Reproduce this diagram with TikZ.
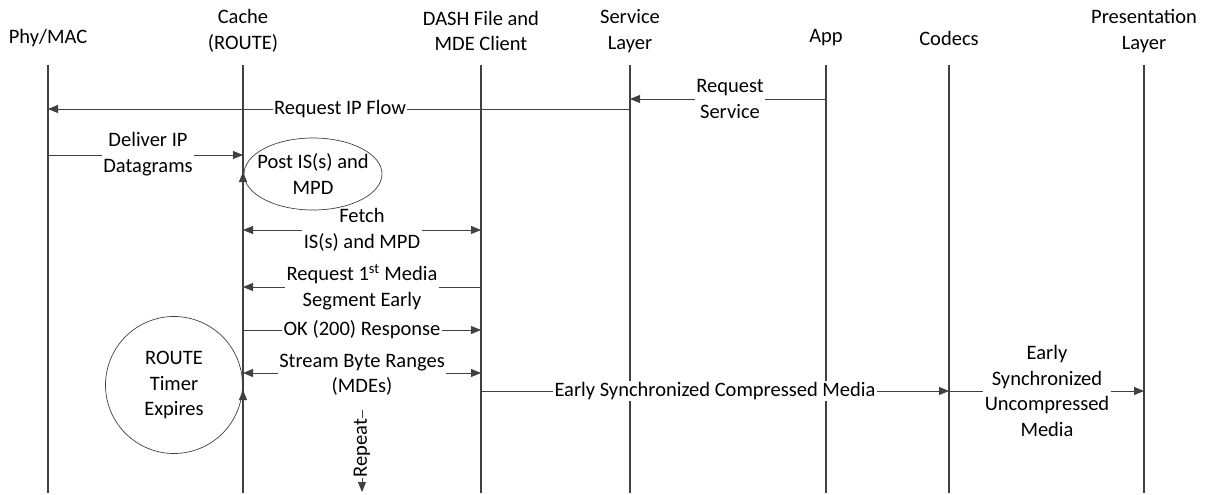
\documentclass[tikz,border=0pt]{standalone}
\usepackage{fontspec}
\setmainfont{Carlito}
\usetikzlibrary{arrows.meta,shapes.geometric}
\definecolor{ink}{HTML}{404040}
\newcommand{\txtsize}{\fontsize{20.5}{25.5}\selectfont}
\tikzset{
  lifeline/.style={draw=ink, line width=1.3pt},
  msg/.style={draw=ink, line width=0.9pt, -{Triangle[length=10pt,width=8pt]}},
  dmsg/.style={draw=ink, line width=0.9pt, {Triangle[length=10pt,width=8pt]}-{Triangle[length=10pt,width=8pt]}},
  head/.style={align=center, font=\txtsize, inner sep=1pt},
  lbl/.style={fill=white, align=center, font=\txtsize, inner sep=1.5pt},
  bubble/.style={draw=ink, line width=0.7pt, align=center, font=\txtsize, inner sep=0pt},
}
\begin{document}
\begin{tikzpicture}[x=1pt, y=-1pt]
\useasboundingbox (0,0) rectangle (1221,495);

% participants: name / x / y of heading / heading text
\foreach \n/\x/\y/\t in {phy/48/38/{Phy/MAC}, cache/243/31/{Cache\\(ROUTE)}, dash/481/31/{DASH File and\\MDE Client},
                      svc/630/31/{Service\\Layer}, app/826/38/{App}, codec/949/38/{Codecs}, pres/1144/31/{Presentation\\Layer}}{
  \node[head] (\n) at (\x,\y) {\t};
  \coordinate (\n-top) at (\x,65);
  \coordinate (\n-bot) at (\x,493);
  \draw[lifeline] (\n-top) -- (\n-bot);
}

% request service
\coordinate (a1) at (826,99);  \coordinate (s1) at (630,99);
\draw[msg] (a1) -- (s1);
\node[lbl] (l-reqsvc) at (730,99) {Request\\Service};

% request IP flow
\coordinate (s2) at (630,109); \coordinate (p2) at (48,109);
\draw[msg] (s2) -- (p2);
\node[lbl] (l-reqip) at (340,109) {Request IP Flow};

% deliver datagrams
\coordinate (p3) at (48,155); \coordinate (c3) at (243,155);
\draw[msg] (p3) -- (c3);
\node[lbl] (l-deliver) at (148,154) {Deliver IP\\Datagrams};

% fetch
\coordinate (c4) at (243,230); \coordinate (d4) at (481,230);
\draw[dmsg] (c4) -- (d4);
\node[lbl] (l-fetch) at (362,230) {Fetch\\IS(s) and MPD};

% post IS(s) and MPD, drawn over the fetch label
\node[bubble, ellipse, minimum width=138pt, minimum height=72pt, inner xsep=-14pt, inner ysep=-8pt]
  (post) at (313,174) {Post IS(s) and\\MPD};
\coordinate (c-post0) at (243,194); \coordinate (c-post1) at (243,172);
\draw[msg, line width=1.3pt] (c-post0) -- (c-post1);

% request first segment
\coordinate (d5) at (481,287); \coordinate (c5) at (243,287);
\draw[msg] (d5) -- (c5);
\node[lbl] (l-req1) at (362,287) {Request 1\textsuperscript{st} Media\\Segment Early};

% OK response
\coordinate (c6) at (243,330); \coordinate (d6) at (481,330);
\draw[msg] (c6) -- (d6);
\node[lbl] (l-ok) at (362,330) {OK (200) Response};

% stream byte ranges
\coordinate (c7) at (243,373); \coordinate (d7) at (481,373);
\draw[dmsg] (c7) -- (d7);
\node[lbl] (l-stream) at (362,375) {Stream Byte Ranges\\(MDEs)};

% route timer
\node[bubble, circle, minimum size=137pt] (timer) at (174,385) {ROUTE\\Timer\\Expires};
\coordinate (c-tim0) at (243,412); \coordinate (c-tim1) at (243,390);
\draw[msg, line width=1.3pt] (c-tim0) -- (c-tim1);

% compressed media
\coordinate (d8) at (481,391); \coordinate (k8) at (949,391);
\draw[msg] (d8) -- (k8);
\node[lbl] (l-comp) at (715,391) {Early Synchronized Compressed Media};

% uncompressed media
\coordinate (k9) at (949,391); \coordinate (p9) at (1144,391);
\draw[msg] (k9) -- (p9);
\node[lbl] (l-uncomp) at (1047,391) {Early\\Synchronized\\Uncompressed\\Media};

% repeat
\coordinate (r0) at (362,410); \coordinate (r1) at (362,492);
\draw[msg] (r0) -- (r1);
\node[lbl, rotate=90, inner sep=0.5pt] (l-rep) at (362,448) {Repeat};
\end{tikzpicture}
\end{document}
